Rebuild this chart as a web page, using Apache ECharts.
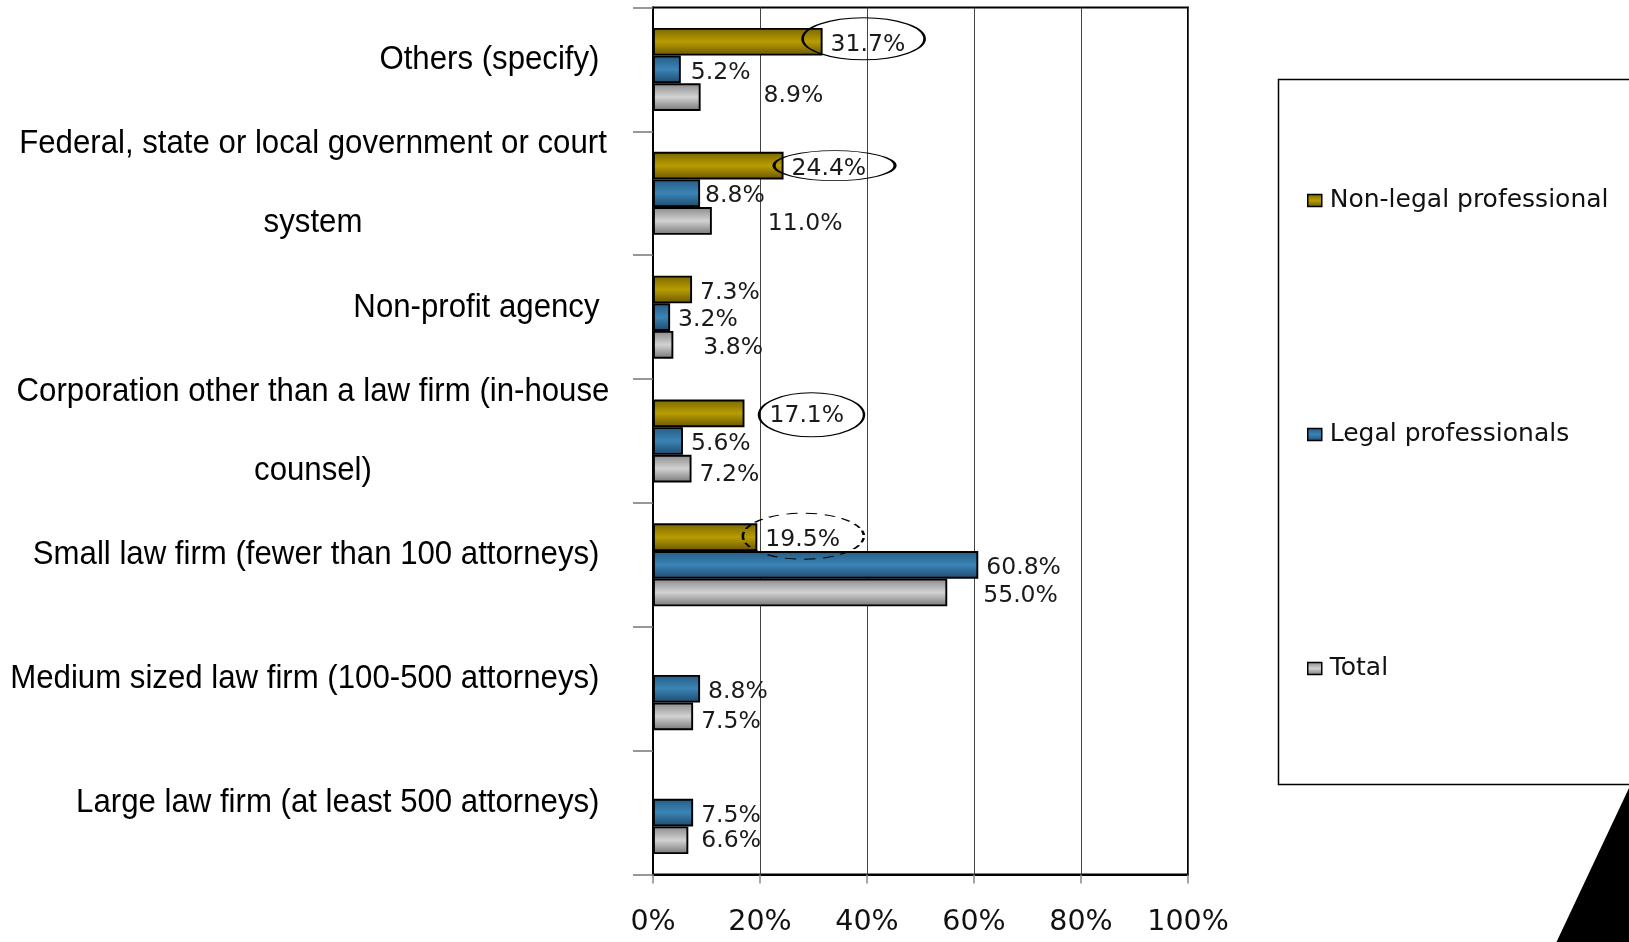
<!DOCTYPE html>
<html>
<head>
<meta charset="utf-8">
<script src="https://cdn.jsdelivr.net/npm/echarts@6/dist/echarts.min.js"></script>
<style>
html,body{margin:0;padding:0;background:#fff;}
#c{width:1629px;height:942px;}
</style>
</head>
<body>
<div id="c"></div>
<script>
// ---- data ----
const categories = [
  'Others (specify)',
  'Federal, state or local government or court system',
  'Non-profit agency',
  'Corporation other than a law firm (in-house counsel)',
  'Small law firm (fewer than 100 attorneys)',
  'Medium sized law firm (100-500 attorneys)',
  'Large law firm (at least 500 attorneys)'
];
const seriesNames = ['Non-legal professional', 'Legal professionals', 'Total'];
const nonLegal = [31.7, 24.4, 7.3, 17.1, 19.5, null, null];
const legal    = [5.2, 8.8, 3.2, 5.6, 60.8, 8.8, 7.5];
const total    = [8.9, 11.0, 3.8, 7.2, 55.0, 7.5, 6.6];
const xTicks   = [0, 20, 40, 60, 80, 100];
// circled Non-legal values (category index); dashed one separately
const circled = [0, 1, 3];
const dashedCircled = [4];

// ---- style tweaks (label nudges and ellipse geometry, pixels) ----
const baseLabelDy = 3;
const labelNudge = {
  0: {3: [17, 0]},
  1: {0: [2, 0], 1: [-3, 0]},
  2: {0: [55, -4], 1: [48, 0], 2: [22, 0], 3: [0, 3], 4: [28, 0], 5: [0, 3], 6: [5, -2]}
};
const ellipseStyle = {
  0: {size: [122, 42], offset: [41, -3]},
  1: {size: [121, 30], offset: [51, 0]},
  3: {size: [105, 44], offset: [67, 1.5]},
  4: {size: [121, 46], offset: [46, -1]}
};

const grad = (a, b, c) => new echarts.graphic.LinearGradient(0, 0, 0, 1, [
  {offset: 0, color: a}, {offset: 0.5, color: b}, {offset: 1, color: c}
]);
const fills = [
  grad('#7a6500', '#b89d00', '#6a5600'),
  grad('#245c84', '#3b84b6', '#1c4a6c'),
  grad('#8a8a8a', '#d2d2d2', '#767676')
];
const ELLIPSE = 'path://M0,50C0,22.4 22.4,0 50,0C77.6,0 100,22.4 100,50C100,77.6 77.6,100 50,100C22.4,100 0,77.6 0,50Z';

function wrapLines(s) {
  const lim = 44;
  if (s.length <= lim) return [s];
  const cut = s.lastIndexOf(' ', lim);
  return [s.slice(0, cut), s.slice(cut + 1)];
}

function buildData(arr, si) {
  return arr.map((v, i) => {
    if (v === null) return '-';
    const n = (labelNudge[si] && labelNudge[si][i]) || [0, 0];
    return {value: v, label: {offset: [n[0], n[1] + baseLabelDy]}};
  });
}

const labelFont = {fontFamily: 'DejaVu Sans', fontSize: 23.5, color: '#1a1a1a'};

const series = [nonLegal, legal, total].map((arr, si) => ({
  name: seriesNames[si],
  type: 'bar',
  data: buildData(arr, si),
  barGap: '0%',
  barCategoryGap: '33%',
  itemStyle: {color: fills[si], borderColor: '#000', borderWidth: 1.9},
  label: Object.assign({show: true, position: 'right', distance: 8, formatter: p => p.value.toFixed(1) + '%'}, labelFont),
  emphasis: {disabled: true}
}));

series[0].markPoint = {
  silent: true,
  label: {show: false},
  data: circled.concat(dashedCircled).map(i => ({
    coord: [nonLegal[i], categories[i]],
    symbol: ELLIPSE,
    symbolSize: ellipseStyle[i].size,
    symbolOffset: ellipseStyle[i].offset,
    itemStyle: {
      color: 'rgba(0,0,0,0)', borderColor: '#000', borderWidth: 1.6,
      borderType: dashedCircled.includes(i) ? [7, 5] : 'solid'
    }
  }))
};

// category labels: narrow sans, drawn at the category axis positions
series.push({
  type: 'custom',
  name: 'catLabels',
  silent: true,
  clip: false,
  data: categories.map(c => [0, c]),
  encode: {x: 0, y: 1},
  renderItem: (params, api) => {
    const idx = api.value(1);
    const pt = api.coord([0, idx]);
    const lines = wrapLines(categories[idx]);
    const multi = lines.length > 1;
    return {
      type: 'text',
      x: multi ? pt[0] - 340 : pt[0] - 53.5,
      y: pt[1] - 9.5,
      scaleX: 0.945,
      style: {
        text: lines.join('\n'),
        fontFamily: 'Liberation Sans, Arial, sans-serif',
        fontSize: 33,
        lineHeight: 79,
        fill: '#000',
        align: multi ? 'center' : 'right',
        verticalAlign: 'middle'
      }
    };
  }
});

const chart = echarts.init(document.getElementById('c'), null, {renderer: 'canvas'});
chart.setOption({
  animation: false,
  backgroundColor: '#fff',
  grid: {left: 653, top: 7.5, right: 441, bottom: 67.5, outerBoundsMode: 'none', containLabel: false,
         show: true, borderColor: '#000', borderWidth: 2, backgroundColor: 'transparent'},
  xAxis: {
    type: 'value', min: xTicks[0], max: xTicks[xTicks.length - 1], interval: xTicks[1] - xTicks[0],
    axisLine: {show: true, lineStyle: {color: '#000', width: 2}},
    axisTick: {show: true, length: 9, lineStyle: {color: '#888', width: 1.5}},
    splitLine: {show: true, lineStyle: {color: '#444', width: 1}},
    axisLabel: {formatter: '{value}%', fontFamily: 'DejaVu Sans', fontSize: 28.5, color: '#111', margin: 34}
  },
  yAxis: {
    type: 'category', data: categories, inverse: true,
    axisLine: {show: true, lineStyle: {color: '#000', width: 2}},
    axisTick: {show: true, length: 20, lineStyle: {color: '#777', width: 1.5}},
    splitLine: {show: false},
    axisLabel: {show: false}
  },
  legend: {
    orient: 'vertical', left: 1307, top: 188, padding: 0, itemGap: 209,
    itemWidth: 14, itemHeight: 12, icon: 'rect',
    data: seriesNames,
    itemStyle: {borderColor: '#000', borderWidth: 1.5},
    textStyle: {fontFamily: 'DejaVu Sans', fontSize: 25, color: '#111', lineHeight: 24, padding: [0, 0, 0, 3]},
    selectedMode: false
  },
  graphic: [
    {type: 'rect', shape: {x: 1278.5, y: 79.5, width: 400, height: 705}, style: {fill: 'none', stroke: '#000', lineWidth: 1.5}, z: 0},
    {type: 'polygon', shape: {points: [[1629, 788], [1556.5, 942], [1629, 942]]}, style: {fill: '#000'}, z: 10}
  ],
  series: series
});
</script>
</body>
</html>
